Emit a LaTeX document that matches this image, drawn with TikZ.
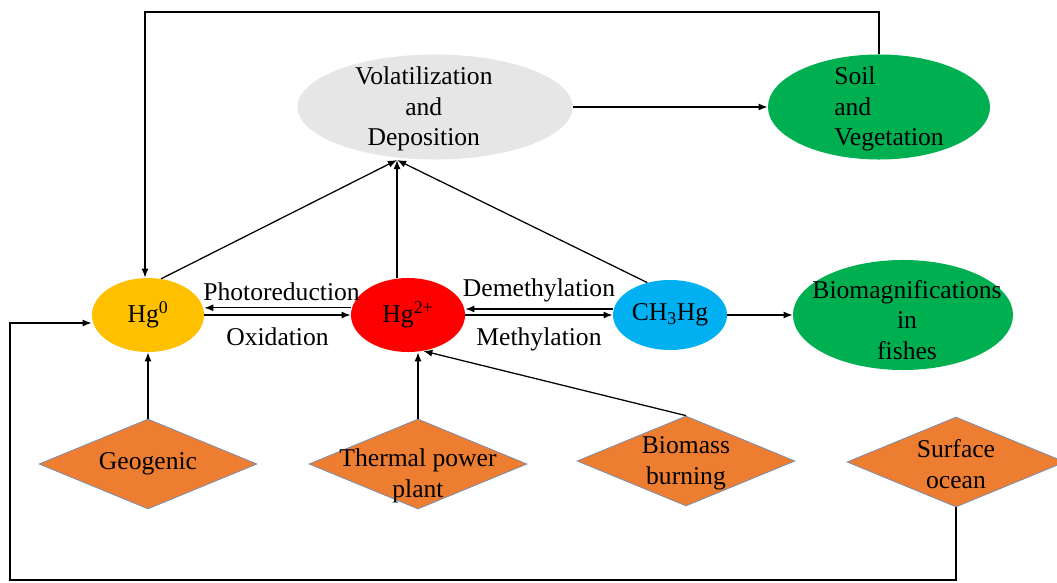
\documentclass[tikz,border=0pt]{standalone}
\usepackage{fontspec}
\setmainfont{Liberation Serif}
\usetikzlibrary{shapes.geometric,arrows.meta}
\definecolor{hgyellow}{HTML}{FFC000}
\definecolor{hgred}{HTML}{FF0000}
\definecolor{hgblue}{HTML}{00B0F0}
\definecolor{hggreen}{HTML}{00B050}
\definecolor{hggrey}{HTML}{E6E6E6}
\definecolor{srcfill}{HTML}{ED7D31}
\definecolor{srcline}{HTML}{6F8FB8}
\begin{document}
\begin{tikzpicture}[x=0.025cm,y=-0.025cm,font=\fontsize{18.2}{21.8}\selectfont,
	box/.style={ellipse,inner sep=0pt},
	src/.style={diamond,draw=srcline,line width=0.5pt,fill=srcfill,minimum width=5.45cm,minimum height=2.25cm,inner sep=0pt},
	arr/.style={-{Latex[length=6.5pt,width=5pt]},line width=0.9pt}]
	\useasboundingbox (0,0) rectangle (1057,583);
	\node[box,fill=hgyellow,minimum width=2.8cm,minimum height=1.85cm](hg0) at (148,315){Hg\textsuperscript{0}};
	\node[box,fill=hgred,minimum width=2.85cm,minimum height=1.85cm](hg2) at (408,315){Hg\textsuperscript{2+}};
	\node[box,fill=hgblue,minimum width=2.85cm,minimum height=1.75cm](ch3) at (670,315){CH\textsubscript{3}Hg};
	\node[box,fill=hggreen,minimum width=5.5cm,minimum height=2.75cm,label={[align=center,yshift=-0.12cm,xshift=0.1cm]center:Biomagnifications\\in\\fishes}](bio) at (903,315){};
	\node[box,fill=hggrey,minimum width=6.875cm,minimum height=2.625cm,label={[align=center,xshift=-0.28cm,yshift=-0.05cm]center:Volatilization\\and\\Deposition}](vol) at (435,107){};
	\node[box,fill=hggreen,minimum width=5.55cm,minimum height=2.625cm,label={[align=left,xshift=0.25cm,yshift=-0.05cm]center:Soil\\and\\Vegetation}](soil) at (879,107){};
	\node[src,label={center:Geogenic}](geo) at (148,464){};
	\node[src,label={[align=center,yshift=-0.3cm]center:Thermal power\\plant}](therm) at (418,464){};
	\node[src,label={[align=center,yshift=-0.05cm]center:Biomass\\burning}](bmass) at (686,461){};
	\node[src,label={[align=center,yshift=-0.05cm]center:Surface\\ocean}](ocean) at (956,462){};
	\coordinate (top) at (145,12);
	\coordinate (vin) at (397,160);
	\coordinate (bot) at (10,580);
	\draw[arr] (soil.north) |- (top) -- (top |- hg0.north);
	\draw[arr] (hg0.70) -- (vin);
	\draw[arr] (vin |- hg2.north) -- (vin);
	\draw[arr] (ch3.125) -- (vin);
	\draw[arr] (vol.east) -- (soil.west);
	\draw[arr] ([yshift=0.18cm]hg2.west) -- ([yshift=0.18cm]hg0.east)node[midway,above=1pt,xshift=0.1cm]{Photoreduction};
	\draw[arr] (hg0.east) -- (hg2.west)node[midway,below=5pt]{Oxidation};
	\draw[arr] ([yshift=0.15cm]ch3.west) -- ([yshift=0.15cm]hg2.east)node[midway,above=1pt]{Demethylation};
	\draw[arr] (hg2.east) -- (ch3.west)node[midway,below=5pt]{Methylation};
	\draw[arr] (ch3.east) -- (bio.west);
	\draw[arr] (geo.north) -- (hg0.south);
	\draw[arr] (therm.north) -- (therm |- hg2.south);
	\draw[arr] (bmass.north) -- (hg2.-67);
	\draw[arr] (ocean.south) |- (bot) |- ([yshift=-0.2cm]hg0.west);
\end{tikzpicture}
\end{document}
